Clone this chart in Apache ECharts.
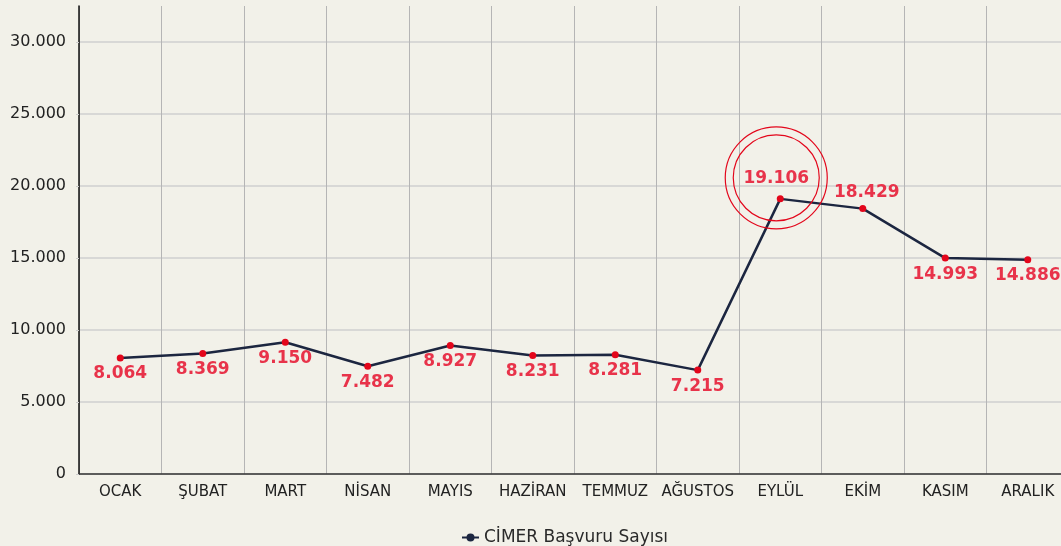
<!DOCTYPE html>
<html>
<head>
    <meta charset="utf-8">
    <title>CİMER Başvuru Sayısı</title>
    <script src="https://cdn.jsdelivr.net/npm/echarts@6/dist/echarts.min.js"></script>
    <style>
        html, body { margin: 0; padding: 0; background: #f2f1e9; }
        #chart { width: 1061px; height: 546px; }
    </style>
</head>
<body>
<div id="chart"></div>
<script type="text/javascript">
    // aylar ve başvuru sayıları
    var months = ['OCAK', 'ŞUBAT', 'MART', 'NİSAN', 'MAYIS', 'HAZİRAN', 'TEMMUZ', 'AĞUSTOS', 'EYLÜL', 'EKİM', 'KASIM', 'ARALIK'];
    var basvuru = [8064, 8369, 9150, 7482, 8927, 8231, 8281, 7215, 19106, 18429, 14993, 14886];
    var yTicks = [0, 5000, 10000, 15000, 20000, 25000, 30000];
    var seriesName = 'CİMER Başvuru Sayısı';

    var RED = '#e3061b';
    var LABEL_RED = '#e8334a';
    var NAVY = '#1c2640';
    var FONT = 'DejaVu Sans';

    // binlik ayırıcı nokta (tr-TR)
    function fmt(v) {
        return String(v).replace(/\B(?=(\d{3})+(?!\d))/g, '.');
    }

    // etiketi noktanın üstüne alınan aylar
    var aboveIdx = { 8: -4, 9: 4 };
    var highlightIdx = 8;

    var data = basvuru.map(function (v, i) {
        var item = { value: v };
        if (aboveIdx[i] !== undefined) {
            item.label = { position: 'top', distance: i === highlightIdx ? 8 : 4, offset: [aboveIdx[i], 0] };
        }
        return item;
    });

    var chart = echarts.init(document.getElementById('chart'));
    chart.setOption({
        backgroundColor: '#f2f1e9',
        animation: false,
        textStyle: { fontFamily: FONT },
        // grafik sağ kenardan biraz taşıyor
        grid: { left: 79, right: -8, top: 6, bottom: 72, outerBoundsMode: 'none' },
        legend: {
            data: [seriesName],
            left: 456,
            top: 524,
            itemWidth: 17,
            itemHeight: 10,
            itemStyle: { color: NAVY },
            textStyle: { color: '#2a2a2a', fontSize: 17, fontFamily: FONT }
        },
        xAxis: {
            type: 'category',
            data: months,
            boundaryGap: true,
            axisLine: { lineStyle: { color: '#333', width: 1.5 } },
            axisTick: { alignWithLabel: true, length: 4, lineStyle: { color: '#aaa' } },
            axisLabel: { interval: 0, color: '#222', fontSize: 15, margin: 11, fontFamily: FONT },
            splitLine: { show: true, interval: 0, lineStyle: { color: '#b5b5b5', width: 1 } }
        },
        yAxis: {
            type: 'value',
            min: yTicks[0],
            max: 32500,
            interval: yTicks[1] - yTicks[0],
            axisLine: { show: true, lineStyle: { color: '#111', width: 1.5 } },
            axisTick: { show: true, length: 3, lineStyle: { color: '#ccc' } },
            axisLabel: { color: '#222', fontSize: 16, margin: 13, showMaxLabel: false, fontFamily: FONT, formatter: fmt },
            splitLine: { show: true, showMaxLine: false, lineStyle: { color: '#cfcfcf', width: 1.5 } }
        },
        series: [{
            name: seriesName,
            type: 'line',
            data: data,
            symbol: 'circle',
            symbolSize: 7,
            itemStyle: { color: RED },
            lineStyle: { color: NAVY, width: 2.5 },
            label: {
                show: true,
                position: 'bottom',
                distance: 4,
                color: LABEL_RED,
                fontSize: 17,
                fontWeight: 'bold',
                fontFamily: FONT,
                formatter: function (p) { return fmt(p.value); }
            },
            markPoint: {
                silent: true,
                label: { show: false },
                data: [
                    { coord: [months[highlightIdx], basvuru[highlightIdx]], symbol: 'circle', symbolSize: 102, symbolOffset: [-4, -21],
                      itemStyle: { color: 'rgba(0,0,0,0)', borderColor: RED, borderWidth: 1.2 } },
                    { coord: [months[highlightIdx], basvuru[highlightIdx]], symbol: 'circle', symbolSize: 86, symbolOffset: [-4, -21],
                      itemStyle: { color: 'rgba(0,0,0,0)', borderColor: RED, borderWidth: 1.2 } }
                ]
            }
        }]
    });
</script>
</body>
</html>
